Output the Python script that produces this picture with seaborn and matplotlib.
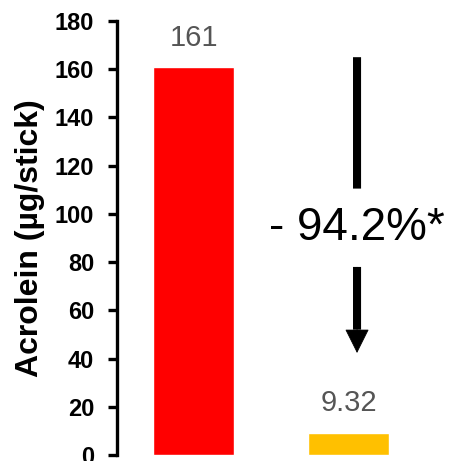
import matplotlib
matplotlib.use("Agg")
import matplotlib.pyplot as plt
import seaborn as sns
import pandas as pd

# data
products = ["Reference", "Test"]
acrolein = [161, 9.32]
value_labels = ["161", "9.32"]
bar_colors = ["#FF0000", "#FFC000"]
reduction_text = "- 94.2%*"

sns.set_theme(style="white")
plt.rcParams['font.family'] = ['Liberation Sans', 'DejaVu Sans']

df = pd.DataFrame({"product": products, "acrolein": acrolein})

fig = plt.figure(figsize=(4.55, 4.61), dpi=100)
ax = fig.add_axes([0.257, 0.013, 0.743, 0.9414])

sns.barplot(data=df, x="product", y="acrolein", hue="product",
            palette=bar_colors, width=0.52, legend=False, ax=ax, saturation=1)

# value labels above bars
for i, (v, lab) in enumerate(zip(acrolein, value_labels)):
    ax.annotate(lab, (i, v), xytext=(0, 11), textcoords="offset points",
                ha="center", va="bottom", fontsize=21, color="#555555")

# reduction arrow (line broken around the text)
ax_x = 1.055
ax.annotate("", xy=(ax_x, 110.5), xytext=(ax_x, 165),
            arrowprops=dict(arrowstyle="-", lw=5.8, color="black",
                            shrinkA=0, shrinkB=0, capstyle="butt"))
ax.annotate("", xy=(ax_x, 42.3), xytext=(ax_x, 78),
            arrowprops=dict(arrowstyle="-|>,head_length=0.8,head_width=0.4",
                            mutation_scale=20, lw=0.5, color="black",
                            shrinkA=0, shrinkB=0, joinstyle="miter",
                            capstyle="butt"))
ax.annotate("", xy=(ax_x, 52), xytext=(ax_x, 78),
            arrowprops=dict(arrowstyle="-", lw=5.8, color="black",
                            shrinkA=0, shrinkB=0, capstyle="butt"))
ax.text(ax_x, 94.2, reduction_text, ha="center", va="center", fontsize=33,
        color="black")

ax.set_xlim(-0.494, 1.687)
ax.set_ylim(0, 180)
ax.set_yticks(range(0, 181, 20))
ax.set_xticks([])
ax.set_xlabel("")
ax.set_ylabel("Acrolein (µg/stick)", fontsize=23, fontweight="bold",
              labelpad=7, color="black")

for lab in ax.get_yticklabels():
    lab.set_fontweight("bold")
    lab.set_fontsize(17)
    lab.set_color("black")

sns.despine(ax=ax, top=True, right=True, bottom=True)
ax.spines["left"].set_linewidth(2.4)
ax.spines["left"].set_color("black")
ax.tick_params(axis="y", direction="out", length=6.5, width=2.4, color="black",
               left=True, pad=10)
for c in ax.get_children():
    c.set_clip_on(False)

fig.savefig("out.png", dpi=100)
